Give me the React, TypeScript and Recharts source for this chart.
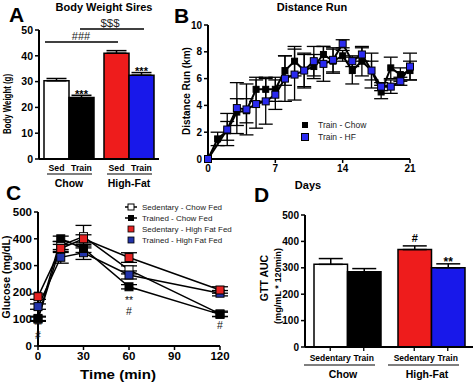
import React from 'react'
import {
  BarChart,
  Bar,
  Cell,
  ErrorBar,
  LabelList,
  LineChart,
  Line,
  XAxis,
  YAxis,
  ReferenceDot,
} from 'recharts'

const FONT = '"Liberation Sans", Arial, Helvetica, sans-serif'
const RED = '#ee1c1c'
const BLUE = '#1818ea'

// A - body weight of sires
const groups = ['Chow', 'High-Fat']
const weightSed = [30.3, 41.0]
const weightSedErr = [0.9, 1.0]
const weightTrain = [23.8, 32.5]
const weightTrainErr = [0.9, 1.0]
const weightTrainSig = ['***', '***']

// B - distance run per day
const days = [0, 1, 2, 3, 4, 5, 6, 7, 8, 9, 10, 11, 12, 13, 14, 15, 16, 17, 18, 19, 20, 21]
const chowRun = [0, 1.5, 2.1, 3.5, 3.6, 5.2, 5.2, 5.2, 6.6, 7.3, 6.6, 6.9, 7.8, 7.3, 7.7, 6.6, 7.3, 6.6, 5.0, 6.8, 6.3, 6.6]
const chowRunErr = [null, 0.5, 0.7, 1.0, 0.9, 0.9, 0.9, 0.9, 1.1, 1.1, 1.2, 0.9, 0.6, 0.9, 0.4, 1.0, 1.1, 1.3, 0.5, 0.8, 0.5, 0.7]
const hfRun = [0, null, 2.2, 3.8, 3.7, 4.1, 4.3, 4.8, 6.0, 6.3, 6.6, 7.3, 7.1, 7.4, 8.6, 7.3, 7.8, 6.6, 5.4, 5.4, 5.8, 6.9]
const hfRunErr = [null, null, 1.2, 1.9, 1.9, 1.8, 1.7, 1.1, 1.7, 1.9, 1.3, 1.1, 1.3, 0.9, 0.3, 0.4, 0.5, 0.7, 0.3, 0.5, 0.3, 1.0]

// C - glucose tolerance test
const gttTimes = [0, 15, 30, 60, 120]
const sedChowGlu = [100, 375, 408, 284, 120]
const sedChowGluErr = [8, 15, 42, 15, 10]
const trainChowGlu = [103, 400, 364, 221, 118]
const trainChowGluErr = [8, 10, 15, 8, 8]
const sedHfGlu = [184, 364, 400, 330, 209]
const sedHfGluErr = [10, 15, 15, 18, 12]
const trainHfGlu = [147, 331, 348, 265, 197]
const trainHfGluErr = [10, 22, 25, 15, 10]
const gttSigTimes = [0, 0, 60, 60, 120]
const gttSigLevels = [86, 40, 180, 130, 78]
const gttSigText = ['**', '#', '**', '#', '#']

// D - GTT area under curve
const aucSed = [313, 369]
const aucSedErr = [22, 14]
const aucSedSig = ['', '#']
const aucTrain = [285, 300]
const aucTrainErr = [12, 15]
const aucTrainSig = ['', '**']

const weightData = groups.map((g, i) => ({
  group: g,
  sed: weightSed[i],
  sedErr: [0, weightSedErr[i]],
  train: weightTrain[i],
  trainErr: [0, weightTrainErr[i]],
  trainSig: weightTrainSig[i],
}))

const runData = days.map((d, i) => ({
  day: d,
  chow: chowRun[i],
  chowErr: chowRunErr[i],
  hf: hfRun[i],
  hfErr: hfRunErr[i],
}))

const gttData = gttTimes.map((t, i) => ({
  t,
  sedChow: sedChowGlu[i],
  sedChowErr: sedChowGluErr[i],
  trainChow: trainChowGlu[i],
  trainChowErr: trainChowGluErr[i],
  sedHf: sedHfGlu[i],
  sedHfErr: sedHfGluErr[i],
  trainHf: trainHfGlu[i],
  trainHfErr: trainHfGluErr[i],
}))

const aucData = groups.map((g, i) => ({
  group: g,
  sed: aucSed[i],
  sedErr: [0, aucSedErr[i]],
  sedSig: aucSedSig[i],
  train: aucTrain[i],
  trainErr: [0, aucTrainErr[i]],
  trainSig: aucTrainSig[i],
}))

const axisLine = { stroke: '#000', strokeWidth: 2 }
const tickLine = { stroke: '#000', strokeWidth: 1.5 }

function squareDot(fill: string, size: number, stroke = '#000') {
  return (props: any) => {
    const { cx, cy, index, value } = props
    if (cx == null || cy == null || value == null || isNaN(cy)) return <g key={`n-${index}`} />
    return (
      <rect
        key={`s-${index}`}
        x={cx - size / 2}
        y={cy - size / 2}
        width={size}
        height={size}
        fill={fill}
        stroke={stroke}
        strokeWidth={1}
      />
    )
  }
}

// significance mark above the error bar of a bar
function sigLabel(values: number[], errs: number[], fontSize: number) {
  return (props: any) => {
    const vb = props.viewBox || {}
    const x = props.x ?? vb.x
    const y = props.y ?? vb.y
    const width = props.width ?? vb.width
    const height = props.height ?? vb.height
    const { index, value } = props
    if (!value) return null
    const perUnit = height / values[index]
    const capY = y - errs[index] * perUnit
    const base = String(value).includes('*') ? capY + 2.5 : capY - 3.5
    return (
      <text x={x + width / 2} y={base} textAnchor="middle" fontSize={fontSize} fontWeight="bold" fill="#000">
        {value}
      </text>
    )
  }
}

function groupTick(
  sub: [string, string],
  barW: number,
  subSize: number,
  groupSize: number,
  subDy: number,
  lineDy: number,
  groupDy: number,
  lineL: number,
  lineR: number,
  marks: boolean,
  groupShift: number,
) {
  return (props: any) => {
    const { x, y, payload } = props
    return (
      <g>
        {marks && (
          <>
            <line x1={x - barW / 2} x2={x - barW / 2} y1={y} y2={y + 4} stroke="#000" strokeWidth={1.3} />
            <line x1={x + barW / 2} x2={x + barW / 2} y1={y} y2={y + 4} stroke="#000" strokeWidth={1.3} />
          </>
        )}
        <text x={x - barW / 2} y={y + subDy} textAnchor="middle" fontSize={subSize} fontWeight="bold" fill="#000">
          {sub[0]}
        </text>
        <text x={x + barW / 2} y={y + subDy} textAnchor="middle" fontSize={subSize} fontWeight="bold" fill="#000">
          {sub[1]}
        </text>
        <line x1={x - lineL} x2={x + lineR} y1={y + lineDy} y2={y + lineDy} stroke="#000" strokeWidth={1.2} />
        <text x={x + groupShift} y={y + groupDy} textAnchor="middle" fontSize={groupSize} fontWeight="bold" fill="#000">
          {payload.value}
        </text>
      </g>
    )
  }
}

function PanelA() {
  return (
    <BarChart
      width={170}
      height={190}
      data={weightData}
      margin={{ top: 30, right: 11, bottom: 0, left: 9 }}
      barGap={0}
    >
      <XAxis
        dataKey="group"
        height={31}
        interval={0}
        tickLine={false}
        tickSize={0}
        tickMargin={0}
        axisLine={axisLine}
        tick={groupTick(['Sed', 'Train'], 25, 8.7, 10.5, 12, 15, 28, 22, 23, false, 0)}
      />
      <YAxis
        domain={[0, 50]}
        ticks={[0, 10, 20, 30, 40, 50]}
        width={30}
        tickSize={4}
        interval={0}
        axisLine={axisLine}
        tickLine={tickLine}
        tick={{ fontSize: 10.5, fontWeight: 'bold', fill: '#000' }}
      />
      <Bar dataKey="sed" barSize={25} isAnimationActive={false}>
        <Cell fill="#fff" stroke="#000" strokeWidth={1.5} />
        <Cell fill={RED} stroke="#000" strokeWidth={1.5} />
        <ErrorBar dataKey="sedErr" width={10} stroke="#000" strokeWidth={1.5} direction="y" />
      </Bar>
      <Bar dataKey="train" barSize={25} isAnimationActive={false}>
        <Cell fill="#000" stroke="#000" strokeWidth={1.5} />
        <Cell fill={BLUE} stroke="#000" strokeWidth={1.5} />
        <ErrorBar dataKey="trainErr" width={10} stroke="#000" strokeWidth={1.5} direction="y" />
        <LabelList dataKey="trainSig" content={sigLabel(weightTrain, weightTrainErr, 11)} />
      </Bar>
    </BarChart>
  )
}

function PanelB() {
  return (
    <LineChart width={309} height={190} data={runData} margin={{ top: 25, right: 64, bottom: 0, left: 13 }}>
      <XAxis
        type="number"
        dataKey="day"
        domain={[0, 21]}
        ticks={[0, 7, 14, 21]}
        interval={0}
        height={31}
        tickSize={4}
        axisLine={axisLine}
        tickLine={tickLine}
        tick={{ fontSize: 10, fontWeight: 'bold', fill: '#000' }}
      />
      <YAxis
        domain={[0, 10]}
        ticks={[0, 2, 4, 6, 8, 10]}
        width={30}
        tickSize={4}
        interval={0}
        axisLine={axisLine}
        tickLine={tickLine}
        tick={{ fontSize: 10, fontWeight: 'bold', fill: '#000' }}
      />
      <Line
        dataKey="chow"
        stroke="#000"
        strokeWidth={2}
        dot={squareDot('#000', 6)}
        activeDot={false}
        isAnimationActive={false}
      >
        <ErrorBar dataKey="chowErr" width={7} stroke="#000" strokeWidth={1.3} direction="y" />
      </Line>
      <Line
        dataKey="hf"
        stroke="#000"
        strokeWidth={2}
        connectNulls
        dot={squareDot('#2a2af0', 7)}
        activeDot={false}
        isAnimationActive={false}
      >
        <ErrorBar dataKey="hfErr" width={7} stroke="#000" strokeWidth={1.3} direction="y" />
      </Line>
    </LineChart>
  )
}

function PanelC() {
  return (
    <LineChart width={240} height={197} data={gttData} margin={{ top: 27, right: 20, bottom: 0, left: 8 }}>
      <XAxis
        type="number"
        dataKey="t"
        domain={[0, 120]}
        ticks={[0, 30, 60, 90, 120]}
        interval={0}
        height={36}
        tickSize={4}
        axisLine={axisLine}
        tickLine={tickLine}
        tick={{ fontSize: 11.5, fontWeight: 'bold', fill: '#000' }}
      />
      <YAxis
        domain={[0, 500]}
        ticks={[0, 100, 200, 300, 400, 500]}
        width={30}
        tickSize={4}
        interval={0}
        axisLine={axisLine}
        tickLine={tickLine}
        tick={{ fontSize: 11.5, fontWeight: 'bold', fill: '#000' }}
      />
      <Line dataKey="sedChow" stroke="#000" strokeWidth={1.5} dot={squareDot('#fff', 8)} activeDot={false} isAnimationActive={false}>
        <ErrorBar dataKey="sedChowErr" width={8} stroke="#000" strokeWidth={1.3} direction="y" />
      </Line>
      <Line dataKey="trainHf" stroke="#000" strokeWidth={1.5} dot={squareDot('#2233aa', 8)} activeDot={false} isAnimationActive={false}>
        <ErrorBar dataKey="trainHfErr" width={8} stroke="#000" strokeWidth={1.3} direction="y" />
      </Line>
      <Line dataKey="sedHf" stroke="#000" strokeWidth={1.5} dot={squareDot('#e52222', 8)} activeDot={false} isAnimationActive={false}>
        <ErrorBar dataKey="sedHfErr" width={8} stroke="#000" strokeWidth={1.3} direction="y" />
      </Line>
      <Line dataKey="trainChow" stroke="#000" strokeWidth={1.5} dot={squareDot('#000', 8)} activeDot={false} isAnimationActive={false}>
        <ErrorBar dataKey="trainChowErr" width={8} stroke="#000" strokeWidth={1.3} direction="y" />
      </Line>
      {gttSigTimes.map((t, i) => (
        <ReferenceDot
          key={`sig-${i}`}
          x={t}
          y={gttSigLevels[i]}
          r={0}
          ifOverflow="visible"
          shape={(p: any) => (
            <text
              x={p.cx}
              y={p.cy + (gttSigText[i].includes('*') ? 6 : 3.5)}
              textAnchor="middle"
              fontSize={10.5}
              fill="#111"
            >
              {gttSigText[i]}
            </text>
          )}
        />
      ))}
    </LineChart>
  )
}

function PanelD() {
  return (
    <BarChart
      width={234}
      height={197}
      data={aucData}
      margin={{ top: 30, right: 1, bottom: 0, left: 35 }}
      barGap={0}
    >
      <XAxis
        dataKey="group"
        height={35}
        interval={0}
        tickLine={false}
        tickSize={0}
        tickMargin={0}
        axisLine={axisLine}
        tick={groupTick(['Sedentary', 'Train'], 33.5, 8.5, 10.5, 14, 18, 31, 43, 28, true, -4)}
      />
      <YAxis
        domain={[0, 500]}
        ticks={[0, 100, 200, 300, 400, 500]}
        width={30}
        tickSize={4}
        interval={0}
        axisLine={axisLine}
        tickLine={tickLine}
        tick={{ fontSize: 10, fontWeight: 'bold', fill: '#000' }}
      />
      <Bar dataKey="sed" barSize={33.5} isAnimationActive={false}>
        <Cell fill="#fff" stroke="#000" strokeWidth={1.5} />
        <Cell fill={RED} stroke="#000" strokeWidth={1.5} />
        <ErrorBar dataKey="sedErr" width={12} stroke="#000" strokeWidth={1.5} direction="y" />
        <LabelList dataKey="sedSig" content={sigLabel(aucSed, aucSedErr, 11)} />
      </Bar>
      <Bar dataKey="train" barSize={33.5} isAnimationActive={false}>
        <Cell fill="#000" stroke="#000" strokeWidth={1.5} />
        <Cell fill={BLUE} stroke="#000" strokeWidth={1.5} />
        <ErrorBar dataKey="trainErr" width={12} stroke="#000" strokeWidth={1.5} direction="y" />
        <LabelList dataKey="trainSig" content={sigLabel(aucTrain, aucTrainErr, 12)} />
      </Bar>
    </BarChart>
  )
}

function Overlay() {
  const bold = { fontWeight: 'bold' as const, fill: '#000' }
  return (
    <svg width={474} height={382} style={{ position: 'absolute', left: 0, top: 0, pointerEvents: 'none' }}>
      {/* panel letters */}
      <text x={9} y={22} fontSize={21} {...bold}>A</text>
      <text x={174} y={23} fontSize={21} {...bold}>B</text>
      <text x={6} y={200} fontSize={21} {...bold}>C</text>
      <text x={254} y={202} fontSize={21} {...bold}>D</text>

      {/* titles */}
      <text x={104} y={11} fontSize={11} textAnchor="middle" {...bold}>Body Weight Sires</text>
      <text x={312} y={11} fontSize={11} textAnchor="middle" {...bold}>Distance Run</text>

      {/* axis labels */}
      <text transform="translate(10.5,104) rotate(-90)" fontSize={10} textAnchor="middle" textLength={60} lengthAdjust="spacingAndGlyphs" {...bold}>
        Body Weight (g)
      </text>
      <text transform="translate(189.5,91) rotate(-90)" fontSize={10} textAnchor="middle" {...bold}>
        Distance Run  (km)
      </text>
      <text x={308} y={189} fontSize={11} textAnchor="middle" {...bold}>Days</text>
      <text transform="translate(9.7,277) rotate(-90)" fontSize={10.5} textAnchor="middle" {...bold}>
        Glucose (mg/dL)
      </text>
      <text x={118} y={379} fontSize={13.5} textAnchor="middle" textLength={76} lengthAdjust="spacingAndGlyphs" {...bold}>
        Time (min)
      </text>
      <text transform="translate(268,278) rotate(-90)" fontSize={10.5} textAnchor="middle" {...bold}>
        GTT AUC
      </text>
      <text transform="translate(280.5,286) rotate(-90)" fontSize={9.5} textAnchor="middle" textLength={76} lengthAdjust="spacingAndGlyphs" {...bold}>
        (mg/mL * 120min)
      </text>

      {/* panel A comparisons */}
      <line x1={45} x2={118} y1={42} y2={42} stroke="#000" strokeWidth={1.5} />
      <text x={81} y={40} fontSize={11} textAnchor="middle" fill="#222">###</text>
      <line x1={80} x2={144} y1={29} y2={29} stroke="#000" strokeWidth={1.5} />
      <text x={110} y={27} fontSize={11.5} textAnchor="middle" fill="#222">$$$</text>

      {/* panel B legend */}
      <rect x={302} y={122} width={6} height={6} fill="#000" />
      <text x={318} y={128} fontSize={8.5} fill="#222">Train - Chow</text>
      <rect x={301.5} y={133.5} width={7} height={7} fill="#2a2af0" stroke="#000" strokeWidth={1} />
      <text x={318} y={140} fontSize={8.5} fill="#222">Train - HF</text>

      {/* panel C legend */}
      <line x1={125} x2={137} y1={207} y2={207} stroke="#000" strokeWidth={1.5} />
      <rect x={128} y={204} width={6} height={6} fill="#fff" stroke="#000" strokeWidth={1} />
      <text x={142} y={210} fontSize={8} fill="#222">Sedentary - Chow Fed</text>
      <line x1={125} x2={137} y1={218} y2={218} stroke="#000" strokeWidth={1.5} />
      <rect x={128} y={215} width={6} height={6} fill="#000" />
      <text x={142} y={221} fontSize={8} fill="#222">Trained - Chow Fed</text>
      <rect x={128} y={226} width={6} height={6} fill="#e52222" stroke="#000" strokeWidth={0.8} />
      <text x={142} y={232} fontSize={8} fill="#222">Sedentary - High Fat Fed</text>
      <rect x={128} y={237} width={6} height={6} fill="#2233aa" stroke="#000" strokeWidth={0.8} />
      <text x={142} y={243} fontSize={8} fill="#222">Trained - High Fat Fed</text>
    </svg>
  )
}

export default function App() {
  return (
    <div
      style={{
        position: 'absolute',
        left: 0,
        top: 0,
        width: 474,
        height: 382,
        background: '#fff',
        fontFamily: FONT,
        overflow: 'hidden',
      }}
    >
      <div style={{ position: 'absolute', left: 0, top: 0 }}>
        <PanelA />
      </div>
      <div style={{ position: 'absolute', left: 165, top: 0 }}>
        <PanelB />
      </div>
      <div style={{ position: 'absolute', left: 0, top: 185 }}>
        <PanelC />
      </div>
      <div style={{ position: 'absolute', left: 240, top: 185 }}>
        <PanelD />
      </div>
      <Overlay />
    </div>
  )
}
